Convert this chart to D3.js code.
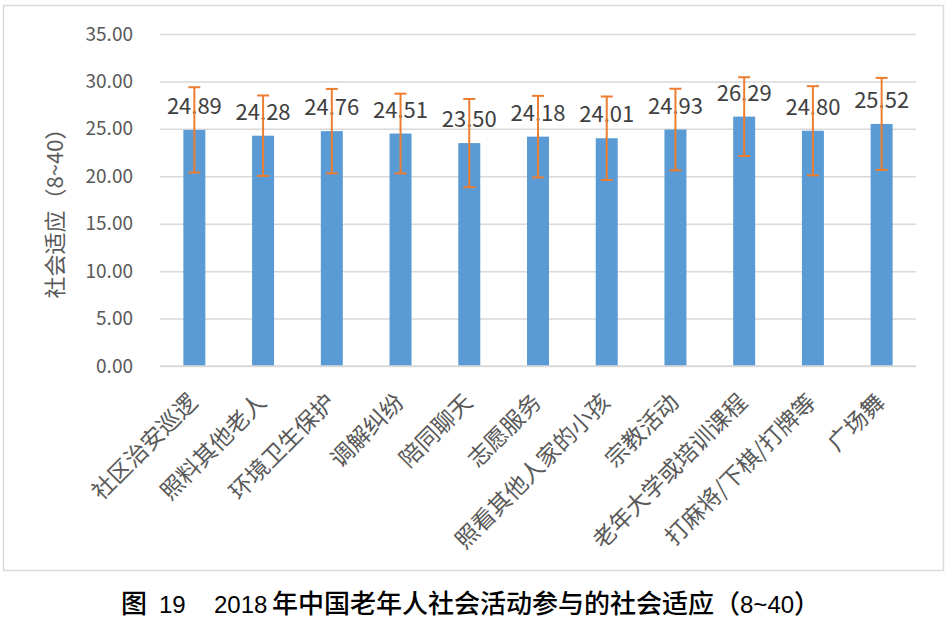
<!DOCTYPE html>
<html lang="zh">
<head>
  <meta charset="UTF-8">
  <title>社会适应</title>
  <style>
    body { margin: 0; background: #fff; }
    svg text { font-family: "Noto Sans CJK SC", "Noto Sans", sans-serif; }
    svg text tspan.num { font-family: "Liberation Sans", Arial, sans-serif; font-weight: normal; font-size: 24px; }
  </style>
</head>
<body>
  <div id="chart"></div>

  <script src="https://d3js.org/d3.v7.min.js"></script>
  <script>
    // activity types
    const categories = ["社区治安巡逻", "照料其他老人", "环境卫生保护", "调解纠纷", "陪同聊天",
      "志愿服务", "照看其他人家的小孩", "宗教活动", "老年大学或培训课程", "打麻将/下棋/打牌等", "广场舞"];
    const means = [24.89, 24.28, 24.76, 24.51, 23.50, 24.18, 24.01, 24.93, 26.29, 24.80, 25.52];
    // standard deviation (error bar half length)
    const errors = [4.50, 4.24, 4.45, 4.20, 4.65, 4.30, 4.40, 4.30, 4.15, 4.70, 4.85];
    const yTicks = [0, 5, 10, 15, 20, 25, 30, 35];

    const width = 949,
          height = 620,
          margin = {top: 34, right: 33, bottom: 254, left: 160};

    const svg = d3.select("#chart")
      .append("svg")
      .attr("width", width)
      .attr("height", height);

    // chart area border
    svg.append("rect")
      .attr("x", 3.5).attr("y", 5.5)
      .attr("width", 940).attr("height", 565)
      .attr("fill", "none")
      .attr("stroke", "#d9d9d9")
      .attr("stroke-width", 1.5);

    const x = d3.scaleBand(categories, [margin.left, width - margin.right])
      .paddingInner(0.68)
      .paddingOuter(0.34);

    const y = d3.scaleLinear([0, 35], [height - margin.bottom, margin.top]);

    // y axis with gridlines
    const yAxis = svg.append("g")
      .attr("transform", `translate(${margin.left},0)`)
      .call(d3.axisLeft(y).tickValues(yTicks).tickFormat(d3.format(".2f"))
        .tickSize(-(width - margin.left - margin.right)).tickPadding(27));
    yAxis.select(".domain").remove();
    yAxis.selectAll(".tick line").attr("stroke", "#d9d9d9").attr("stroke-width", 1.5);
    yAxis.selectAll(".tick text")
      .attr("fill", "#595959")
      .attr("font-size", 19);

    // bars
    svg.append("g")
      .selectAll("rect")
      .data(means)
      .join("rect")
      .attr("x", (d, i) => x(categories[i]))
      .attr("y", d => y(d))
      .attr("width", x.bandwidth())
      .attr("height", d => y(0) - y(d))
      .attr("fill", "#5b9bd5");

    // data labels
    svg.append("g")
      .selectAll("text")
      .data(means)
      .join("text")
      .attr("x", (d, i) => x(categories[i]) + x.bandwidth() / 2)
      .attr("y", d => y(d) - 16)
      .attr("text-anchor", "middle")
      .attr("fill", "#404040")
      .attr("font-size", 22)
      .text(d => d.toFixed(2));

    // error bars
    const eb = svg.append("g")
      .attr("stroke", "#ed7d31")
      .attr("stroke-width", 2)
      .selectAll("g")
      .data(means)
      .join("g")
      .attr("transform", (d, i) => `translate(${x(categories[i]) + x.bandwidth() / 2},0)`);
    eb.append("line")
      .attr("y1", (d, i) => y(d + errors[i]))
      .attr("y2", (d, i) => y(d - errors[i]));
    eb.append("line")
      .attr("x1", -6).attr("x2", 6)
      .attr("y1", (d, i) => y(d + errors[i]))
      .attr("y2", (d, i) => y(d + errors[i]));
    eb.append("line")
      .attr("x1", -6).attr("x2", 6)
      .attr("y1", (d, i) => y(d - errors[i]))
      .attr("y2", (d, i) => y(d - errors[i]));

    // x axis line
    svg.append("line")
      .attr("x1", margin.left).attr("x2", width - margin.right)
      .attr("y1", y(0)).attr("y2", y(0))
      .attr("stroke", "#d9d9d9")
      .attr("stroke-width", 1.5);

    // rotated category labels
    svg.append("g")
      .selectAll("text")
      .data(categories)
      .join("text")
      .attr("transform", d => `translate(${x(d) + x.bandwidth() / 2 - 1},${y(0) + 32}) rotate(-45)`)
      .attr("text-anchor", "end")
      .attr("dy", "0.35em")
      .attr("fill", "#595959")
      .attr("font-size", 23)
      .text(d => d);

    // y axis title
    svg.append("text")
      .attr("transform", `translate(63,${(y(0) + y(35)) / 2 + 8}) rotate(-90)`)
      .attr("text-anchor", "middle")
      .attr("fill", "#595959")
      .attr("font-size", 22)
      .text("社会适应（8~40）");

    // caption
    const cap = svg.append("text")
      .attr("y", 613)
      .attr("fill", "#000")
      .attr("font-size", 26)
      .attr("font-weight", 500);
    cap.append("tspan").attr("x", 121).text("图");
    cap.append("tspan").attr("x", 159).attr("class", "num").text("19");
    cap.append("tspan").attr("x", 214).attr("class", "num").text("2018");
    cap.append("tspan").attr("x", 272).text("年中国老年人社会活动参与的社会适应（");
    cap.append("tspan").attr("class", "num").text("8~40");
    cap.append("tspan").text("）");
  </script>
</body>
</html>
